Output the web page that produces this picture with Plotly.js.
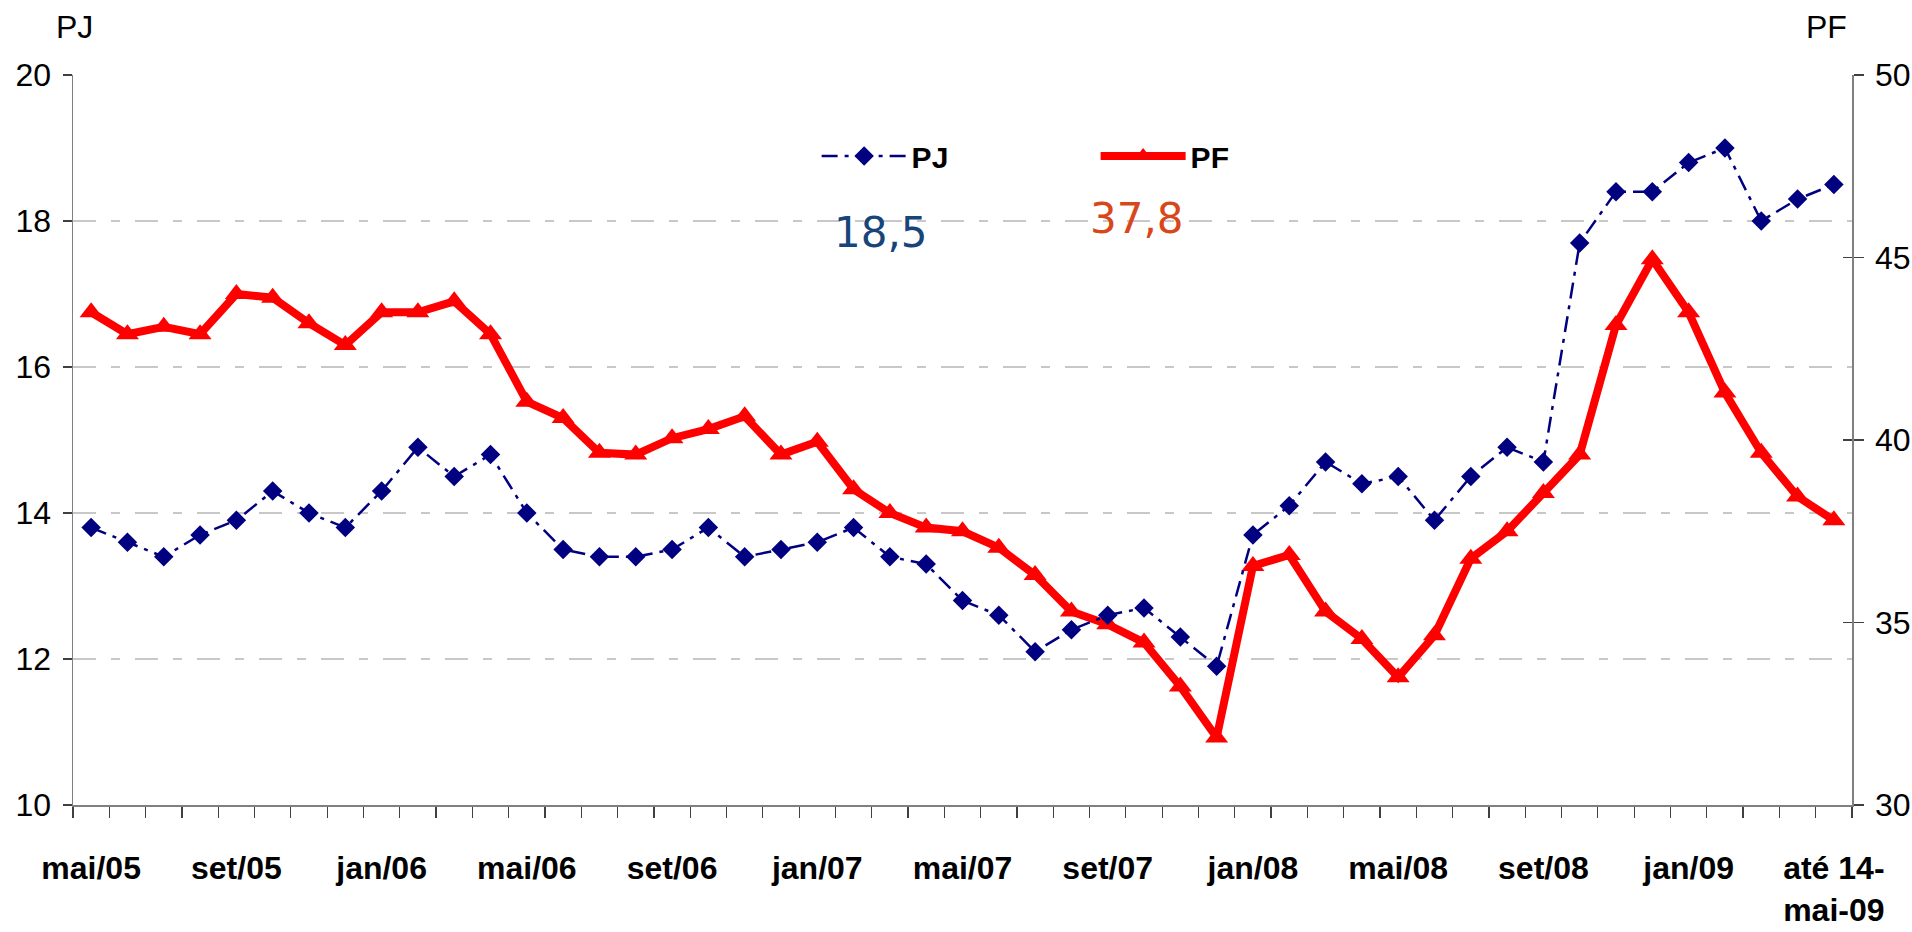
<!DOCTYPE html>
<html>
<head>
<meta charset="utf-8">
<script src="https://cdn.plot.ly/plotly-3.0.1.min.js"></script>
<style>html,body{margin:0;padding:0;background:#fff;}#chart{width:1912px;height:932px;}</style>
</head>
<body>
<div id="chart"></div>
<script>
// Categories (monthly, May 2005 to 14 May 2009)
const categories = [
  "mai/05","jun/05","jul/05","ago/05","set/05","out/05","nov/05","dez/05",
  "jan/06","fev/06","mar/06","abr/06","mai/06","jun/06","jul/06","ago/06","set/06","out/06","nov/06","dez/06",
  "jan/07","fev/07","mar/07","abr/07","mai/07","jun/07","jul/07","ago/07","set/07","out/07","nov/07","dez/07",
  "jan/08","fev/08","mar/08","abr/08","mai/08","jun/08","jul/08","ago/08","set/08","out/08","nov/08","dez/08",
  "jan/09","fev/09","mar/09","abr/09","até 14-mai-09"
];
// Shown tick labels (every fourth month)
const tickLabels = ["mai/05","set/05","jan/06","mai/06","set/06","jan/07","mai/07","set/07","jan/08","mai/08","set/08","jan/09","até 14-<br>mai-09"];
const tickLabelCats = ["mai/05","set/05","jan/06","mai/06","set/06","jan/07","mai/07","set/07","jan/08","mai/08","set/08","jan/09","até 14-mai-09"];

// PJ (left axis)
const pjValues = [13.8,13.6,13.4,13.7,13.9,14.3,14.0,13.8,14.3,14.9,14.5,14.8,14.0,13.5,13.4,13.4,13.5,13.8,13.4,13.5,13.6,13.8,13.4,13.3,12.8,12.6,12.1,12.4,12.6,12.7,12.3,11.9,13.7,14.1,14.7,14.4,14.5,13.9,14.5,14.9,14.7,17.7,18.4,18.4,18.8,19.0,18.0,18.3,18.5];
// PF (right axis)
const pfValues = [43.5,42.9,43.1,42.9,44.0,43.9,43.2,42.6,43.5,43.5,43.8,42.9,41.05,40.6,39.65,39.6,40.05,40.3,40.65,39.6,39.95,38.65,38.0,37.6,37.5,37.05,36.3,35.3,34.95,34.45,33.25,31.85,36.55,36.85,35.3,34.55,33.5,34.65,36.75,37.5,38.55,39.6,43.15,44.95,43.5,41.3,39.65,38.45,37.8];

const lastPJ = "18,5";
const lastPF = "37,8";

const SANS = "'Liberation Sans', Arial, sans-serif";

const tickText = categories.map(c => {
  const k = tickLabelCats.indexOf(c);
  return k >= 0 ? tickLabels[k] : "";
});

const traces = [
  {
    x: categories, y: pfValues, name: "PF", type: "scatter", mode: "lines+markers",
    yaxis: "y", legendrank: 2,
    line: {color: "#FF0000", width: 8},
    marker: {symbol: "triangle-up", size: 20, color: "#FF0000"}
  },
  {
    x: categories, y: pjValues, name: "PJ", type: "scatter", mode: "lines+markers",
    yaxis: "y2", legendrank: 1,
    line: {color: "#000080", width: 2.5, dash: "16px,7px,4px,7px"},
    marker: {symbol: "diamond", size: 15, color: "#000080"}
  },
  {
    x: categories, y: pfValues, name: "", type: "scatter", mode: "lines",
    yaxis: "y3", showlegend: false, hoverinfo: "skip", opacity: 0,
    line: {width: 0}
  }
];

const layout = {
  width: 1912, height: 932,
  margin: {l: 73, r: 60, t: 75, b: 127},
  paper_bgcolor: "#ffffff", plot_bgcolor: "#ffffff",
  showlegend: true,
  xaxis: {
    type: "category", categoryorder: "array", categoryarray: categories,
    range: [-0.5, categories.length - 0.5],
    tickmode: "array", tickvals: categories, ticktext: tickText,
    tickson: "boundaries", ticks: "outside", ticklen: 11, tickwidth: 1.2, tickcolor: "#404040",
    showline: true, linecolor: "#808080", linewidth: 1.5,
    showgrid: false, zeroline: false, tickangle: 0, automargin: false,
    ticklabelstandoff: 34,
    tickfont: {family: SANS, size: 32, color: "#000000", weight: "bold"}
  },
  yaxis: {
    side: "right", range: [30, 50], dtick: 5, tick0: 30,
    ticks: "outside", ticklen: 10, tickwidth: 1.2, tickcolor: "#404040",
    showline: true, linecolor: "#808080", linewidth: 1.5,
    showgrid: false, zeroline: false, automargin: false,
    ticklabelstandoff: 5,
    tickfont: {family: SANS, size: 32, color: "#000000"}
  },
  yaxis2: {
    side: "left", overlaying: "y", range: [10, 20], dtick: 2, tick0: 10,
    ticks: "outside", ticklen: 9, tickwidth: 1.2, tickcolor: "#404040",
    showline: true, linecolor: "#808080", linewidth: 1.5,
    showgrid: true, gridcolor: "#c8c8c8", gridwidth: 1.2, griddash: "23px,15px,9px,15px",
    zeroline: false, automargin: false,
    ticklabelstandoff: 5,
    tickfont: {family: SANS, size: 32, color: "#000000"}
  },
  yaxis3: {
    side: "right", overlaying: "y", range: [30, 50], dtick: 5, tick0: 30,
    ticks: "inside", ticklen: 9, tickwidth: 1.2, tickcolor: "#404040",
    showticklabels: false, showline: false, showgrid: false, zeroline: false
  },
  legend: {
    orientation: "h", x: 0.418, y: 0.889, xanchor: "left", yanchor: "middle",
    xref: "paper", yref: "paper",
    bgcolor: "rgba(0,0,0,0)", borderwidth: 0,
    itemwidth: 85, entrywidth: 179, entrywidthmode: "pixels",
    font: {family: SANS, size: 30, color: "#000000", weight: "bold"},
    itemclick: false, itemdoubleclick: false
  },
  annotations: [
    {text: "PJ", xref: "paper", yref: "paper", x: 0.001, y: 1.0658, showarrow: false,
     xanchor: "center", yanchor: "middle", font: {family: SANS, size: 32, color: "#000000"}},
    {text: "PF", xref: "paper", yref: "paper", x: 0.9854, y: 1.0658, showarrow: false,
     xanchor: "center", yanchor: "middle", font: {family: SANS, size: 32, color: "#000000"}},
    {text: lastPJ, xref: "paper", yref: "paper", x: 0.4542, y: 0.7836, showarrow: false,
     xanchor: "center", yanchor: "middle", font: {family: "'DejaVu Sans', sans-serif", size: 42, color: "#17457A"}},
    {text: lastPF, xref: "paper", yref: "paper", x: 0.598, y: 0.804, showarrow: false,
     xanchor: "center", yanchor: "middle", font: {family: "'DejaVu Sans', sans-serif", size: 42, color: "#D9461A"}}
  ]
};

Plotly.newPlot("chart", traces, layout, {displayModeBar: false, staticPlot: true});
</script>
</body>
</html>
